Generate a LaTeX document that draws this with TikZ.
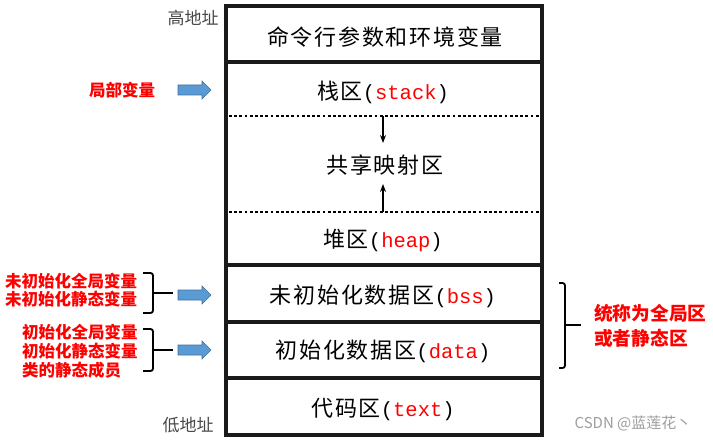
\documentclass[tikz,border=0pt]{standalone}
\usepackage{fontspec}
\setmainfont{Liberation Serif}
\newfontfamily\cjk{Noto Sans CJK SC}
\newfontfamily\cjksp[LetterSpace=8]{Noto Sans CJK SC}
\newfontfamily\mono{Liberation Mono}
\usetikzlibrary{arrows.meta}
\definecolor{arrblue}{RGB}{91,155,213}
\definecolor{arredge}{RGB}{65,113,156}
\definecolor{framec}{RGB}{26,26,26}
\begin{document}
\begin{tikzpicture}[x=1pt,y=-1pt,
  seg/.style={font=\cjksp\fontsize{22}{24}\selectfont, text=black, inner sep=0pt},
  redlbl/.style={font=\cjk\bfseries\fontsize{16.5}{18}\selectfont, text=red, inner sep=0pt},
  addr/.style={font=\cjk\fontsize{17}{20}\selectfont, text=black!72, inner sep=0pt},
  blk/.style={fill=arrblue, draw=arredge, line width=0.6pt},
  bracec/.style={draw=black, line width=1.8pt, rounded corners=2.5pt},
  sep/.style={draw=framec, line width=4.5pt},
  dotsep/.style={draw=black, line width=2.8pt, dash pattern=on 2.8pt off 2.4pt},
  growarr/.style={draw=black, line width=1.2pt, -{Stealth[length=8pt,width=6pt]}}
]
\newcommand{\lt}[1]{{\mono\fontsize{20.5}{24}\selectfont(\textcolor{red}{#1})}}
\useasboundingbox (0,0) rectangle (713,441);
\fill[white] (0,0) rectangle (713,441);
% frame
\draw[sep] (226,6) rectangle (542,435);
\draw[sep] (226,62) -- (542,62);
\draw[sep] (226,265) -- (542,265);
\draw[sep] (226,322) -- (542,322);
\draw[sep] (226,378) -- (542,378);
\draw[dotsep] (229,116) -- (540,116);
\draw[dotsep] (229,212) -- (540,212);
% segment texts
\node[seg] (env) at (385,37) {命令行参数和环境变量};
\node[seg] (stk) at (383,92) {栈区\lt{stack}};
\node[seg] (shm) at (385,165) {共享映射区};
\node[seg] (hep) at (383,240) {堆区\lt{heap}};
\node[seg] (bss) at (383,296) {未初始化数据区\lt{bss}};
\node[seg] (dat) at (383,351) {初始化数据区\lt{data}};
\node[seg] (txt) at (383,409) {代码区\lt{text}};
% growth arrows
\coordinate (sdA) at (383,116);
\coordinate (sdB) at (383,143);
\coordinate (huA) at (383,212);
\coordinate (huB) at (383,184);
\draw[growarr] (sdA) -- (sdB);
\draw[growarr] (huA) -- (huB);
% address labels
\node[addr] (hi) at (193,18) {高地址};
\node[addr] (lo) at (188,425) {低地址};
% left labels
\node[redlbl] (loc) at (122,90) {局部变量};
\node[redlbl, align=left, anchor=west] (unini) at (5,290) {未初始化全局变量\\未初始化静态变量};
\node[redlbl, align=left, anchor=west, font=\cjk\bfseries\fontsize{16.5}{19}\selectfont] (ini) at (22,351) {初始化全局变量\\初始化静态变量\\类的静态成员};
% block arrows
\foreach \c in {90,295,350}{
  \draw[blk] (178,\c-5) -- (202,\c-5) -- (202,\c-9) -- (211,\c) -- (202,\c+9) -- (202,\c+5) -- (178,\c+5) -- cycle;
}
% braces
\draw[bracec] (143,273) -- (153,273) -- (153,313) -- (143,313);
\draw[bracec] (153,293) -- (173,293);
\draw[bracec] (143,329) -- (153,329) -- (153,371) -- (143,371);
\draw[bracec] (153,350) -- (173,350);
\draw[bracec] (559,283) -- (565,283) -- (565,368) -- (559,368);
\draw[bracec] (565,325) -- (581,325);
% right label
\node[redlbl, align=left, anchor=west, font=\cjk\bfseries\fontsize{18.7}{25}\selectfont] (glob) at (594,325.5) {统称为全局区\\或者静态区};
% watermark
\node[font=\cjk\fontsize{15}{18}\selectfont, text=black!38, inner sep=0pt] (wm) at (633,423) {CSDN @蓝莲花丶};
\end{tikzpicture}
\end{document}
